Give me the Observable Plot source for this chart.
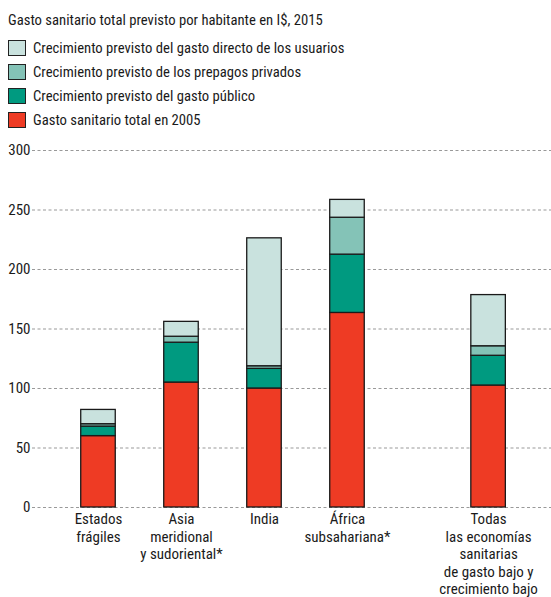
<!DOCTYPE html>
<html><head><meta charset="utf-8">
<script src="https://cdn.jsdelivr.net/npm/d3@7"></script>
<script src="https://cdn.jsdelivr.net/npm/@observablehq/plot@0.6"></script>
<style>
body{margin:0;background:#fff;font-family:"Roboto Condensed",Roboto,sans-serif;color:#1a1a1a;}
#head{position:relative;height:130px;width:551px;font-size:14.7px;}
#title{position:absolute;left:8px;top:8px;line-height:24px;}
.item{position:absolute;left:8px;height:16px;line-height:16px;display:flex;align-items:center;white-space:nowrap;}
.sw{width:16px;height:14px;border:1px solid #222;margin-right:7px;flex:none;}
</style></head>
<body>
<div id="head"></div>
<div id="chart"></div>
<script>
const categories = ["Estados\nfrágiles","Asia\nmeridional\ny sudoriental*","India","África\nsubsahariana*","Todas\nlas economías\nsanitarias\nde gasto bajo y\ncrecimiento bajo"];
const xPos = [0, 1, 2, 3, 4.7];
const seriesNames = ["Gasto sanitario total en 2005","Crecimiento previsto del gasto público","Crecimiento previsto de los prepagos privados","Crecimiento previsto del gasto directo de los usuarios"];
const colors = ["#EE3B24","#009A80","#84C3B7","#C9E2DE"];
const total2005 = [60, 105, 100, 163.5, 102.5];
const publico = [8, 33.5, 16.5, 49, 25];
const privado = [2, 5, 2.2, 31, 8];
const directo = [12, 12.5, 107.5, 15, 43];
const yTicks = [0, 50, 100, 150, 200, 250, 300];
const title = "Gasto sanitario total previsto por habitante en I$, 2015";

// legend (HTML)
const head = document.getElementById("head");
const t = document.createElement("div"); t.id="title"; t.textContent = title; head.appendChild(t);
[3,2,1,0].forEach((k,i)=>{
  const it = document.createElement("div"); it.className="item"; it.style.top = (39.5 + i*24.1)+"px";
  const sw = document.createElement("div"); sw.className="sw"; sw.style.background = colors[k];
  it.appendChild(sw); it.appendChild(document.createTextNode(seriesNames[k])); head.appendChild(it);
});

const series = [total2005, publico, privado, directo];
const rows = [];
categories.forEach((c,i)=>{
  let base = 0;
  series.forEach((s,k)=>{
    rows.push({pos:xPos[i], y1:base, y2:base+s[i], serie:seriesNames[k]});
    base += s[i];
  });
});
const half = 0.208;

const chart = Plot.plot({
  width: 551, height: 467,
  marginTop: 20, marginBottom: 90, marginLeft: 32, marginRight: 0,
  style: {fontFamily: '"Roboto Condensed",Roboto,sans-serif', fontSize: "15px", color:"#1a1a1a"},
  x: {domain: [-0.795, 5.458]},
  y: {domain: [0, 300]},
  color: {domain: seriesNames, range: colors},
  marks: [
    Plot.gridY(yTicks, {stroke:"#999", strokeOpacity:1, strokeDasharray:"3,2.5", strokeWidth:1}),
    Plot.axisY(yTicks, {tickSize:0, tickPadding:2, label:null, fontSize:15}),
    Plot.axisX(xPos, {tickSize:0, tickPadding:4, label:null, tickFormat: d => categories[xPos.indexOf(d)], lineHeight:1.17, fontSize:15}),
    Plot.rect(rows, {x1: d => d.pos - half, x2: d => d.pos + half, y1:"y1", y2:"y2", fill:"serie", stroke:"#1a1a1a", strokeWidth:1.3})
  ]
});
document.getElementById("chart").appendChild(chart);
</script>
</body></html>
